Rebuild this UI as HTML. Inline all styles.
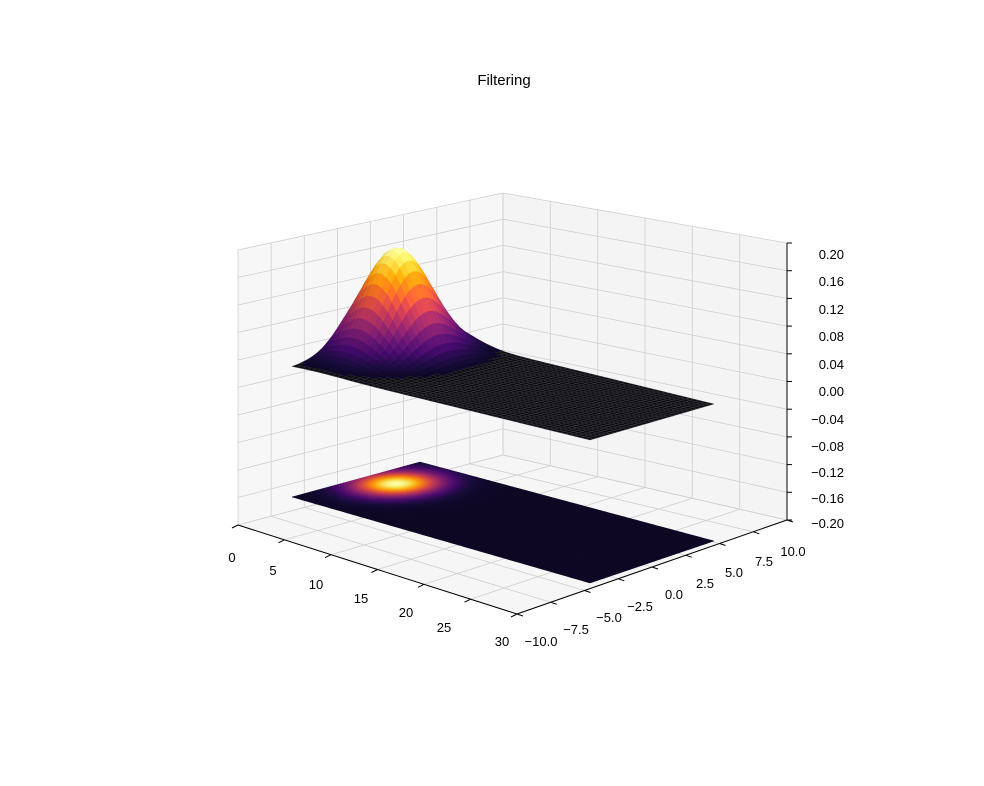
<!DOCTYPE html>
<html><head><meta charset="utf-8"><style>
html,body{margin:0;padding:0;background:#fff;}
svg{display:block;font-family:"Liberation Sans","DejaVu Sans",sans-serif;}
</style></head><body>
<svg id="s" width="984" height="786" viewBox="0 0 984 786" xmlns="http://www.w3.org/2000/svg">
<rect width="984" height="786" fill="#fff"/>
<text x="504" y="85" font-size="15" text-anchor="middle" fill="#000">Filtering</text>
<g id="g"></g>
<g font-size="13" fill="#000">
<text x="232" y="562" text-anchor="middle">0</text>
<text x="273" y="575" text-anchor="middle">5</text>
<text x="316" y="589" text-anchor="middle">10</text>
<text x="361" y="603" text-anchor="middle">15</text>
<text x="406" y="617" text-anchor="middle">20</text>
<text x="444" y="632" text-anchor="middle">25</text>
<text x="502" y="646" text-anchor="middle">30</text>
<text x="541" y="646" text-anchor="middle">−10.0</text>
<text x="576" y="634" text-anchor="middle">−7.5</text>
<text x="609" y="622" text-anchor="middle">−5.0</text>
<text x="640" y="611" text-anchor="middle">−2.5</text>
<text x="674" y="599" text-anchor="middle">0.0</text>
<text x="705" y="588" text-anchor="middle">2.5</text>
<text x="734" y="577" text-anchor="middle">5.0</text>
<text x="764" y="566" text-anchor="middle">7.5</text>
<text x="793" y="556" text-anchor="middle">10.0</text>
<g text-anchor="end">
<text x="844" y="259">0.20</text>
<text x="844" y="286">0.16</text>
<text x="844" y="314">0.12</text>
<text x="844" y="341">0.08</text>
<text x="844" y="369">0.04</text>
<text x="844" y="396">0.00</text>
<text x="844" y="424">−0.04</text>
<text x="844" y="451">−0.08</text>
<text x="844" y="477">−0.12</text>
<text x="844" y="503">−0.16</text>
<text x="844" y="528">−0.20</text>
</g></g>
</svg>
<script>
(function(){
var g=document.getElementById('g'),out='';
function bil(c,s,t){return [c[0][0]*(1-s)*(1-t)+c[1][0]*s*(1-t)+c[2][0]*(1-s)*t+c[3][0]*s*t,
 c[0][1]*(1-s)*(1-t)+c[1][1]*s*(1-t)+c[2][1]*(1-s)*t+c[3][1]*s*t];}
var box=[[238,525],[517,614],[503,455],[787,520]];var hz=[275,300,262,277];
function P(x,y,z){var s=x/30,t=(y+10)/20;var f=bil(box,s,t);
 var h=hz[0]*(1-s)*(1-t)+hz[1]*s*(1-t)+hz[2]*(1-s)*t+hz[3]*s*t;return [f[0],f[1]-h*(z+0.2)/0.4];}
function pl(pts,fill,stroke,sw){return '<polygon points="'+pts.map(function(p){return p[0].toFixed(1)+','+p[1].toFixed(1)}).join(' ')+'" fill="'+fill+'"'+(stroke?' stroke="'+stroke+'" stroke-width="'+sw+'" stroke-linejoin="round"':'')+'/>';}
function ln(a,b,c,w){return '<line x1="'+a[0].toFixed(1)+'" y1="'+a[1].toFixed(1)+'" x2="'+b[0].toFixed(1)+'" y2="'+b[1].toFixed(1)+'" stroke="'+c+'" stroke-width="'+(w||0.8)+'"/>';}
out+=pl([P(0,-10,-0.2),P(0,10,-0.2),P(0,10,0.2),P(0,-10,0.2)],'#f7f7f7');
out+=pl([P(0,10,-0.2),P(30,10,-0.2),P(30,10,0.2),P(0,10,0.2)],'#f4f4f4');
out+=pl([P(0,-10,-0.2),P(30,-10,-0.2),P(30,10,-0.2),P(0,10,-0.2)],'#f6f6f6');
var gc='#cfcfcf',i,v;
for(i=0;i<=6;i++){v=i*5;out+=ln(P(v,-10,-0.2),P(v,10,-0.2),gc);out+=ln(P(v,10,-0.2),P(v,10,0.2),gc);}
for(i=0;i<=8;i++){v=-10+i*2.5;out+=ln(P(0,v,-0.2),P(30,v,-0.2),gc);out+=ln(P(0,v,-0.2),P(0,v,0.2),gc);}
for(i=0;i<=10;i++){v=-0.2+i*0.04;out+=ln(P(0,-10,v),P(0,10,v),gc);out+=ln(P(0,10,v),P(30,10,v),gc);}
out+=ln(P(0,-10,-0.2),P(30,-10,-0.2),'#000',1);
out+=ln(P(30,-10,-0.2),P(30,10,-0.2),'#000',1);
out+=ln(P(30,10,-0.2),P(30,10,0.2),'#000',1);
for(i=0;i<=6;i++){var a=P(i*5,-10,-0.2);out+=ln(a,[a[0]-6,a[1]+3],'#000',1);}
for(i=0;i<=8;i++){var a=P(30,-10+i*2.5,-0.2);out+=ln(a,[a[0]+6,a[1]+2],'#000',1);}
for(i=0;i<=10;i++){var a=P(30,10,-0.2+i*0.04);out+=ln(a,[a[0]+5,a[1]],'#000',1);}
var cm=[[0,0,4],[22,11,57],[66,10,104],[106,23,110],[147,38,103],[188,55,84],[221,81,58],[243,120,25],[252,165,10],[246,215,70],[252,255,164]];
function infa(x){x=Math.max(0,Math.min(1,x))*10;var k=Math.min(9,Math.floor(x)),f=x-k,a=cm[k],b=cm[k+1];
 return [a[0]+(b[0]-a[0])*f,a[1]+(b[1]-a[1])*f,a[2]+(b[2]-a[2])*f];}
function rgb(c,m){return 'rgb('+Math.round(Math.min(255,c[0]*m))+','+Math.round(Math.min(255,c[1]*m))+','+Math.round(Math.min(255,c[2]*m))+')';}
function inf(x){return rgb(infa(x),1);}
function gs(s,t){return Math.exp(-((s-0.095)*(s-0.095)/(2*0.085*0.085)+(t-0.6)*(t-0.6)/(2*0.2*0.2)));}
function gf(s,t){return Math.exp(-((s-0.095)*(s-0.095)/(2*0.07*0.07)+(t-0.6)*(t-0.6)/(2*0.18*0.18)));}
var fl=[[292,497],[590,583],[420,462],[714,541]];
var NU=120,NV=50,u,w;
for(u=0;u<NU;u++)for(w=0;w<NV;w++){var s0=u/NU,s1=(u+1)/NU,t0=w/NV,t1=(w+1)/NV;
 var val=gf((s0+s1)/2,(t0+t1)/2);var c=inf(0.06+val*0.94);
 out+=pl([bil(fl,s0,t0),bil(fl,s1,t0),bil(fl,s1,t1),bil(fl,s0,t1)],c,c,0.5);}
var tp=[[292,367],[590,440],[420,332],[714,404]],H=105;
function SP(s,t){var p=bil(tp,s,t);return [p[0],p[1]-H*gs(s,t)];}
var faces=[];NU=60;NV=30;
for(u=0;u<NU;u++)for(w=0;w<NV;w++){var s0=u/NU,s1=(u+1)/NU,t0=w/NV,t1=(w+1)/NV;
 var val=gs((s0+s1)/2,(t0+t1)/2);var fp=bil(fl,(s0+s1)/2,(t0+t1)/2);
 var dS=gs(s1,(t0+t1)/2)-gs(s0,(t0+t1)/2);
 faces.push([fp[1],[SP(s0,t0),SP(s1,t0),SP(s1,t1),SP(s0,t1)],val,dS]);}
faces.sort(function(a,b){return a[0]-b[0];});
faces.forEach(function(f){var val=f[2];
 if(val<0.015){out+=pl(f[1],'#0b0b10','#3a3a42',0.35);return;}
 var m=1-Math.max(-0.25,Math.min(0.25,f[3]*1.2));
 var c=rgb(infa(0.05+val*0.95),m);
 out+=pl(f[1],c,c,0.5);});
g.innerHTML=out;
})();
</script>
</body></html>
